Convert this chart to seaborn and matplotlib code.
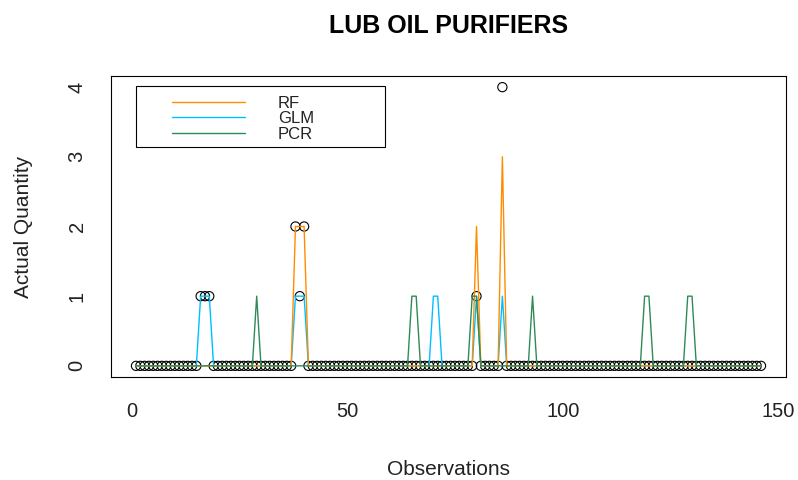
import numpy as np
import pandas as pd
import matplotlib
matplotlib.use("Agg")
import matplotlib.pyplot as plt
import seaborn as sns
from matplotlib.patches import Rectangle

# ---- data -------------------------------------------------------------
n_obs = 146
observations = np.arange(1, n_obs + 1)

# Observed quantities: zero everywhere except these observations
actual_obs = [16, 17, 18, 38, 39, 40, 80, 86]
actual_val = [1, 1, 1, 2, 1, 2, 1, 4]

# Model predictions (non-zero entries only)
rf_obs = [38, 39, 40, 80, 86]
rf_val = [2, 2, 2, 2, 3]

glm_obs = [16, 17, 18, 38, 39, 40, 70, 71, 80, 86]
glm_val = [1, 1, 1, 1, 1, 1, 1, 1, 1, 1]

pcr_obs = [29, 65, 66, 79, 80, 93, 119, 120, 129, 130]
pcr_val = [1, 1, 1, 1, 1, 1, 1, 1, 1, 1]

series_names = ["RF", "GLM", "PCR"]
series_colors = {"RF": "#FF8C00", "GLM": "#00BFFF", "PCR": "#2E8B57"}


def full_series(idx, vals):
    s = pd.Series(0.0, index=observations)
    s.loc[idx] = vals
    return s.values


df = pd.DataFrame({
    "obs": observations,
    "actual": full_series(actual_obs, actual_val),
    "RF": full_series(rf_obs, rf_val),
    "GLM": full_series(glm_obs, glm_val),
    "PCR": full_series(pcr_obs, pcr_val),
})

# ---- figure -----------------------------------------------------------
sns.set_style("white")
plt.rcParams["font.family"] = ["Liberation Sans", "DejaVu Sans"]

fig = plt.figure(figsize=(7.98, 4.80), dpi=100)
ax = fig.add_axes([111 / 798, 1 - 377 / 480, 675 / 798, 301 / 480])

sns.scatterplot(data=df, x="obs", y="actual", marker="o", s=44,
                facecolor="none", edgecolor="black", linewidth=0.8,
                ax=ax, zorder=2)

# drawing order: GLM underneath, then RF, PCR on top
for name, z in [("GLM", 3), ("RF", 4), ("PCR", 5)]:
    sns.lineplot(data=df, x="obs", y=name, color=series_colors[name],
                 lw=1.0, ax=ax, zorder=z, label=name, legend=False)

ax.set_xlim(-4.8, 151.8)
ax.set_ylim(-0.16, 4.16)
ax.set_xticks([0, 50, 100, 150])
ax.set_yticks([0, 1, 2, 3, 4])
ax.tick_params(axis="both", direction="out", length=8.6, width=0.75,
               color="black", labelsize=14.5, labelcolor="#222222")
ax.tick_params(axis="x", pad=9.4)
ax.tick_params(axis="y", pad=9)
for lab in ax.get_yticklabels():
    lab.set_rotation(90)
    lab.set_va("center")
for sp in ax.spines.values():
    sp.set_visible(True)
    sp.set_color("black")
    sp.set_linewidth(0.8)

ax.set_xlabel("Observations", fontsize=15, color="#222222")
ax.set_ylabel("Actual Quantity", fontsize=15, color="#222222")
ax.xaxis.set_label_coords(0.5, -0.275)
ax.yaxis.set_label_coords(-0.116, 0.5)
ax.set_title("LUB OIL PURIFIERS", fontsize=18, fontweight="bold",
             pad=31, color="black")

# legend: entries from the drawn lines, framed by a plain box
handles, labels = ax.get_legend_handles_labels()
order = [labels.index(n) for n in series_names]
leg = ax.legend([handles[i] for i in order], [labels[i] for i in order],
                loc="upper left", bbox_to_anchor=((172 - 111) / 675, 1 - (96 - 76) / 301),
                frameon=False, fontsize=12, handlelength=4.4,
                handletextpad=1.95, labelspacing=0.02, borderpad=0,
                borderaxespad=0)
for t in leg.get_texts():
    t.set_color("#222222")
ax.add_patch(Rectangle(((136 - 111) / 675, 1 - (147 - 76) / 301),
                       249 / 675, 61 / 301, transform=ax.transAxes,
                       fill=False, edgecolor="black", lw=0.8, zorder=6))

fig.savefig("out.png", dpi=100)
